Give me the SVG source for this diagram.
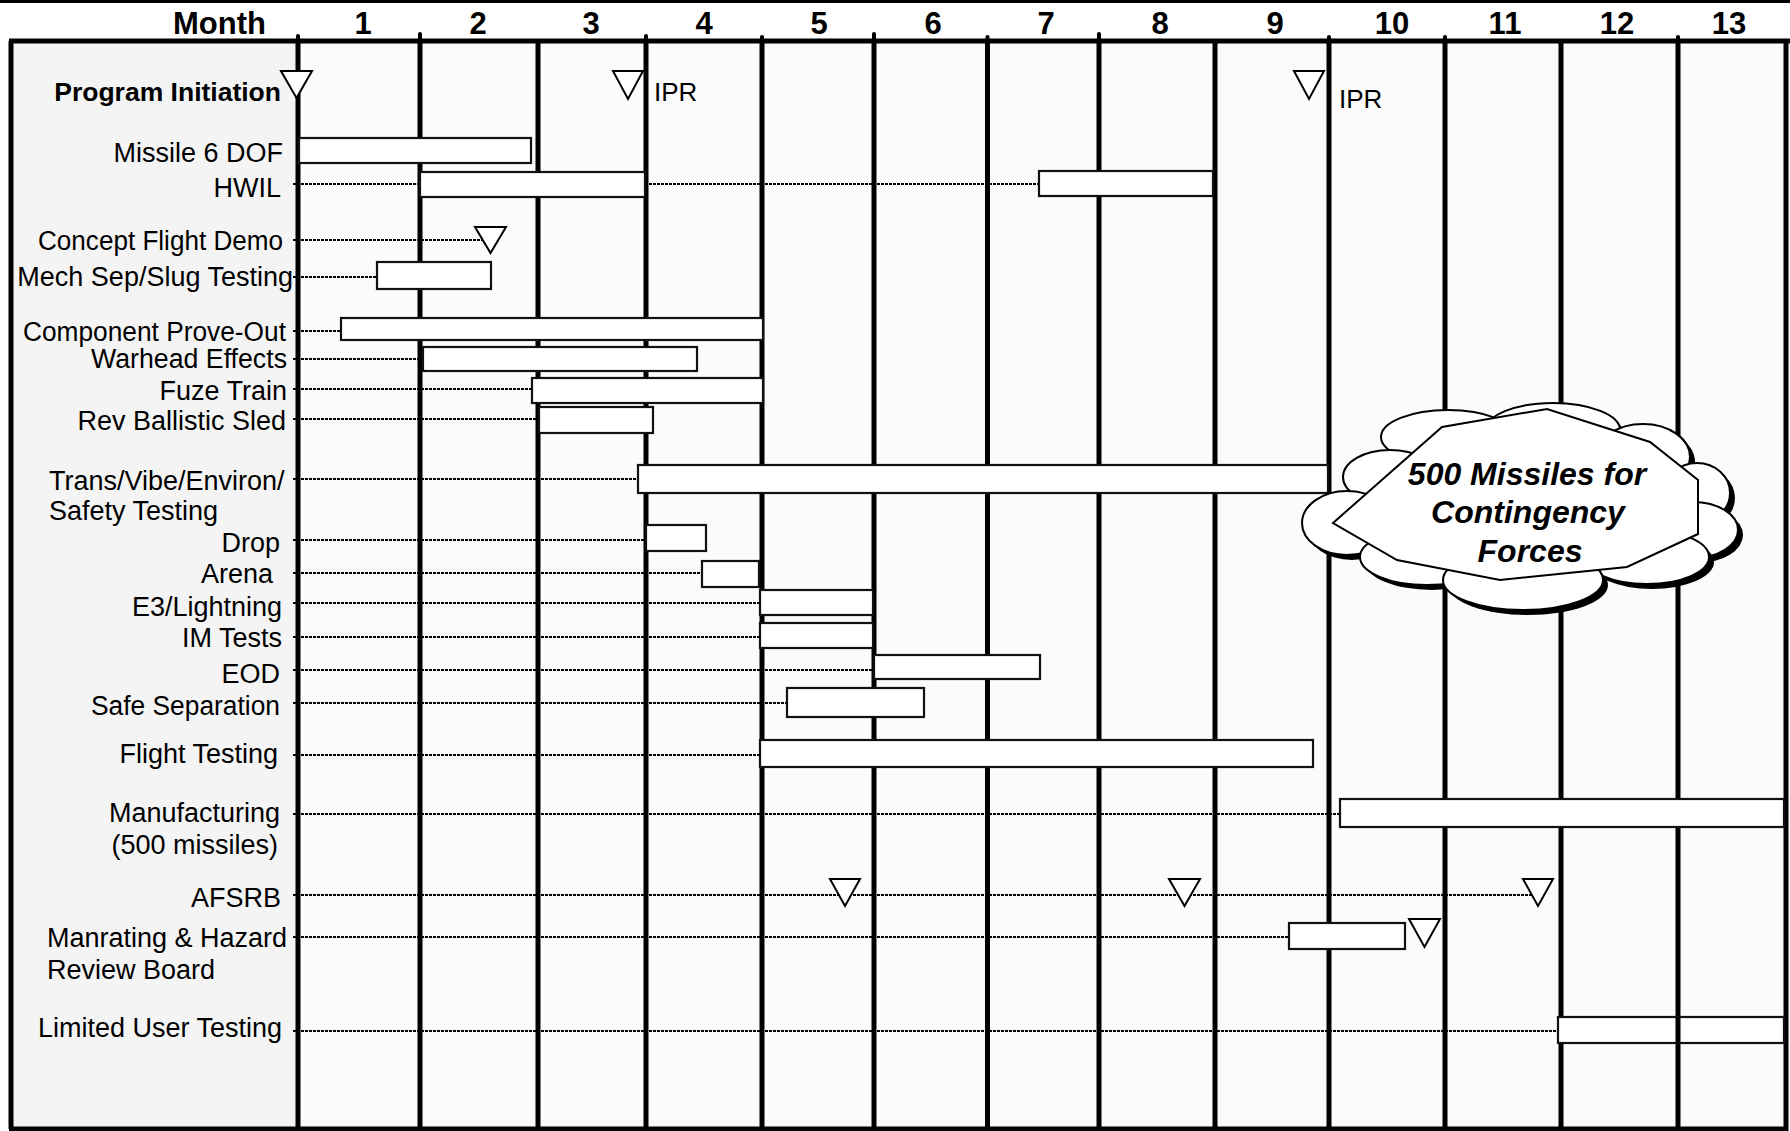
<svg xmlns="http://www.w3.org/2000/svg" width="1790" height="1131" viewBox="0 0 1790 1131">
<style>
.lbl{font-family:"Liberation Sans",Arial,sans-serif;font-size:27px;fill:#000}
.end{text-anchor:end}
.b{font-weight:bold;font-size:26.5px}
.hdr{font-family:"Liberation Sans",Arial,sans-serif;font-size:31px;font-weight:bold;text-anchor:middle;fill:#000}
.bar{fill:#fff;stroke:#111;stroke-width:2.2}
.ms{fill:#fff;stroke:#000;stroke-width:2;stroke-linejoin:miter}
.grid{stroke:#000;stroke-width:5}
.tick{stroke:#000;stroke-width:4;stroke-linecap:round}
.lead{stroke:#000;stroke-width:2;stroke-dasharray:3 1;fill:none}
.cl{fill:#fff;stroke:#000;stroke-width:2}
.sh{fill:#000}
.ct{font-family:"Liberation Sans",Arial,sans-serif;font-size:32px;font-weight:bold;font-style:italic;text-anchor:middle;fill:#000}
</style>
<rect x="0" y="0" width="1790" height="1131" fill="#fff"/>
<g id="frame">
<rect x="11" y="41" width="287" height="1088" fill="#f4f4f4"/>
<rect x="298" y="41" width="1487" height="1088" fill="#fbfbfb"/>
<line x1="0" y1="1.5" x2="1790" y2="1.5" stroke="#000" stroke-width="3"/>
</g>
<g id="connectors">
<line class="lead" x1="293" y1="184" x2="419" y2="184"/>
<line class="lead" x1="645" y1="184" x2="1039" y2="184"/>
<line class="lead" x1="293" y1="240" x2="483" y2="240"/>
<line class="lead" x1="293" y1="277" x2="377" y2="277"/>
<line class="lead" x1="293" y1="331" x2="341" y2="331"/>
<line class="lead" x1="293" y1="359" x2="423" y2="359"/>
<line class="lead" x1="293" y1="389" x2="532" y2="389"/>
<line class="lead" x1="293" y1="419" x2="539" y2="419"/>
<line class="lead" x1="293" y1="479" x2="638" y2="479"/>
<line class="lead" x1="293" y1="540" x2="646" y2="540"/>
<line class="lead" x1="293" y1="573" x2="702" y2="573"/>
<line class="lead" x1="293" y1="603" x2="760" y2="603"/>
<line class="lead" x1="293" y1="637" x2="760" y2="637"/>
<line class="lead" x1="293" y1="670" x2="874" y2="670"/>
<line class="lead" x1="293" y1="703" x2="787" y2="703"/>
<line class="lead" x1="293" y1="755" x2="760" y2="755"/>
<line class="lead" x1="293" y1="814" x2="1340" y2="814"/>
<line class="lead" x1="293" y1="895" x2="1532" y2="895"/>
<line class="lead" x1="293" y1="937" x2="1289" y2="937"/>
<line class="lead" x1="293" y1="1031" x2="1558" y2="1031"/>
</g>
<g id="grid">
<line class="grid" x1="9" y1="41" x2="1790" y2="41"/>
<line class="grid" x1="11" y1="41" x2="11" y2="1129"/>
<line class="grid" x1="9" y1="1129" x2="1788" y2="1129"/>
<line class="grid" x1="1786" y1="41" x2="1786" y2="1131"/>
<line class="grid" x1="298" y1="41" x2="298" y2="1129"/>
<line class="grid" x1="420" y1="41" x2="420" y2="1129"/>
<line class="grid" x1="538" y1="41" x2="538" y2="1129"/>
<line class="grid" x1="646" y1="41" x2="646" y2="1129"/>
<line class="grid" x1="762" y1="41" x2="762" y2="1129"/>
<line class="grid" x1="874" y1="41" x2="874" y2="1129"/>
<line class="grid" x1="987.5" y1="41" x2="987.5" y2="1129"/>
<line class="grid" x1="1099" y1="41" x2="1099" y2="1129"/>
<line class="grid" x1="1215" y1="41" x2="1215" y2="1129"/>
<line class="grid" x1="1329" y1="41" x2="1329" y2="1129"/>
<line class="grid" x1="1445" y1="41" x2="1445" y2="1129"/>
<line class="grid" x1="1561" y1="41" x2="1561" y2="1129"/>
<line class="grid" x1="1678" y1="41" x2="1678" y2="1129"/>
<line class="tick" x1="298" y1="36" x2="298" y2="41"/>
<line class="tick" x1="420" y1="34" x2="420" y2="41"/>
<line class="tick" x1="646" y1="36" x2="646" y2="41"/>
<line class="tick" x1="762" y1="37" x2="762" y2="41"/>
<line class="tick" x1="874" y1="34" x2="874" y2="41"/>
<line class="tick" x1="987.5" y1="37" x2="987.5" y2="41"/>
<line class="tick" x1="1099" y1="34" x2="1099" y2="41"/>
<line class="tick" x1="1329" y1="37" x2="1329" y2="41"/>
<line class="tick" x1="1445" y1="37" x2="1445" y2="41"/>
<line class="tick" x1="1678" y1="37" x2="1678" y2="41"/>
</g>
<g id="header">
<text class="hdr" x="266" y="34" style="text-anchor:end">Month</text>
<text class="hdr" x="363" y="34">1</text>
<text class="hdr" x="478" y="34">2</text>
<text class="hdr" x="591" y="34">3</text>
<text class="hdr" x="704" y="34">4</text>
<text class="hdr" x="819" y="34">5</text>
<text class="hdr" x="933" y="34">6</text>
<text class="hdr" x="1046" y="34">7</text>
<text class="hdr" x="1160" y="34">8</text>
<text class="hdr" x="1275" y="34">9</text>
<text class="hdr" x="1392" y="34">10</text>
<text class="hdr" x="1505" y="34">11</text>
<text class="hdr" x="1617" y="34">12</text>
<text class="hdr" x="1729" y="34">13</text>
</g>
<g id="program-initiation">
<text class="lbl end b" x="281" y="101">Program Initiation</text>
<polygon class="ms" points="281,71 312,71 296.5,98"/>
</g>
<g id="ipr-1">
<polygon class="ms" points="613,71 643,71 628,99"/>
<text class="lbl" x="654" y="101" style="font-size:26px">IPR</text>
</g>
<g id="ipr-2">
<polygon class="ms" points="1294,71 1324,71 1309,99"/>
<text class="lbl" x="1339" y="108" style="font-size:26px">IPR</text>
</g>
<g id="missile-6dof">
<text class="lbl end" x="283" y="162">Missile 6 DOF</text>
<rect class="bar" x="299" y="138" width="232" height="25"/>
</g>
<g id="hwil">
<text class="lbl end" x="281" y="197">HWIL</text>
<rect class="bar" x="420" y="172" width="225" height="25"/>
<rect class="bar" x="1039" y="171" width="174" height="25"/>
</g>
<g id="concept-flight-demo">
<text class="lbl end" x="283" y="250" textLength="245" lengthAdjust="spacingAndGlyphs">Concept Flight Demo</text>
<polygon class="ms" points="475,227 506,227 490.5,253"/>
</g>
<g id="mech-sep">
<text class="lbl end" x="293" y="286">Mech Sep/Slug Testing</text>
<rect class="bar" x="377" y="262" width="114" height="27"/>
</g>
<g id="component-prove-out">
<text class="lbl end" x="286" y="341" textLength="263" lengthAdjust="spacingAndGlyphs">Component Prove-Out</text>
<rect class="bar" x="341" y="318" width="422" height="22"/>
</g>
<g id="warhead-effects">
<text class="lbl end" x="287" y="368" textLength="196" lengthAdjust="spacingAndGlyphs">Warhead Effects</text>
<rect class="bar" x="423" y="347" width="274" height="24"/>
</g>
<g id="fuze-train">
<text class="lbl end" x="287" y="400">Fuze Train</text>
<rect class="bar" x="532" y="378" width="231" height="25"/>
</g>
<g id="rev-ballistic-sled">
<text class="lbl end" x="286" y="430">Rev Ballistic Sled</text>
<rect class="bar" x="539" y="407" width="114" height="26"/>
</g>
<g id="trans-vibe">
<text class="lbl" x="49" y="490">Trans/Vibe/Environ/</text>
<text class="lbl" x="49" y="520">Safety Testing</text>
<rect class="bar" x="638" y="465" width="690" height="28"/>
</g>
<g id="drop">
<text class="lbl end" x="280" y="552">Drop</text>
<rect class="bar" x="646" y="525" width="60" height="26"/>
</g>
<g id="arena">
<text class="lbl end" x="273" y="583">Arena</text>
<rect class="bar" x="702" y="561" width="57" height="26"/>
</g>
<g id="e3-lightning">
<text class="lbl end" x="282" y="616">E3/Lightning</text>
<rect class="bar" x="760" y="590" width="113" height="25"/>
</g>
<g id="im-tests">
<text class="lbl end" x="282" y="647">IM Tests</text>
<rect class="bar" x="760" y="623" width="113" height="25"/>
</g>
<g id="eod">
<text class="lbl end" x="280" y="683">EOD</text>
<rect class="bar" x="874" y="655" width="166" height="24"/>
</g>
<g id="safe-separation">
<text class="lbl end" x="280" y="715" textLength="189" lengthAdjust="spacingAndGlyphs">Safe Separation</text>
<rect class="bar" x="787" y="688" width="137" height="29"/>
</g>
<g id="flight-testing">
<text class="lbl end" x="278" y="763">Flight Testing</text>
<rect class="bar" x="760" y="740" width="553" height="27"/>
</g>
<g id="manufacturing">
<text class="lbl end" x="280" y="822">Manufacturing</text>
<text class="lbl end" x="278" y="854">(500 missiles)</text>
<rect class="bar" x="1340" y="799" width="444" height="28"/>
</g>
<g id="afsrb">
<text class="lbl end" x="281" y="907">AFSRB</text>
<polygon class="ms" points="830,879 860,879 845,906"/>
<polygon class="ms" points="1169,879 1200,879 1184.5,906"/>
<polygon class="ms" points="1523,879 1553,879 1538,906"/>
</g>
<g id="manrating">
<text class="lbl" x="47" y="947">Manrating &amp; Hazard</text>
<text class="lbl" x="47" y="979">Review Board</text>
<rect class="bar" x="1289" y="923" width="116" height="26"/>
<polygon class="ms" points="1409,919 1440,919 1424.5,947"/>
</g>
<g id="limited-user-testing">
<text class="lbl end" x="282" y="1037">Limited User Testing</text>
<rect class="bar" x="1558" y="1017" width="226" height="26"/>
<line class="grid" x1="1678" y1="1017" x2="1678" y2="1043"/>
</g>
<g id="cloud-callout">
<ellipse class="sh" cx="1453" cy="442" rx="67" ry="27"/>
<ellipse class="cl" cx="1448" cy="437" rx="67" ry="27"/>
<ellipse class="sh" cx="1558" cy="435" rx="67" ry="27"/>
<ellipse class="cl" cx="1553" cy="430" rx="67" ry="27"/>
<ellipse class="sh" cx="1648" cy="462" rx="47" ry="33"/>
<ellipse class="cl" cx="1643" cy="457" rx="47" ry="33"/>
<ellipse class="sh" cx="1395" cy="482" rx="47" ry="27"/>
<ellipse class="cl" cx="1390" cy="477" rx="47" ry="27"/>
<ellipse class="sh" cx="1702" cy="498" rx="33" ry="30"/>
<ellipse class="cl" cx="1697" cy="493" rx="33" ry="30"/>
<ellipse class="sh" cx="1352" cy="528" rx="45" ry="32"/>
<ellipse class="cl" cx="1347" cy="523" rx="45" ry="32"/>
<ellipse class="sh" cx="1698" cy="535" rx="45" ry="28"/>
<ellipse class="cl" cx="1693" cy="530" rx="45" ry="28"/>
<ellipse class="sh" cx="1432" cy="562" rx="67" ry="28"/>
<ellipse class="cl" cx="1427" cy="557" rx="67" ry="28"/>
<ellipse class="sh" cx="1652" cy="562" rx="62" ry="27"/>
<ellipse class="cl" cx="1647" cy="557" rx="62" ry="27"/>
<ellipse class="sh" cx="1528" cy="585" rx="80" ry="30"/>
<ellipse class="cl" cx="1523" cy="580" rx="80" ry="30"/>
<polygon class="cl" points="1333,523 1442,427 1547,409 1650,442 1698,480 1698,534 1627,567 1500,580 1397,560"/>
<text class="ct" x="1527" y="485">500 Missiles for</text>
<text class="ct" x="1528" y="523">Contingency</text>
<text class="ct" x="1530" y="562">Forces</text>
</g>
</svg>
